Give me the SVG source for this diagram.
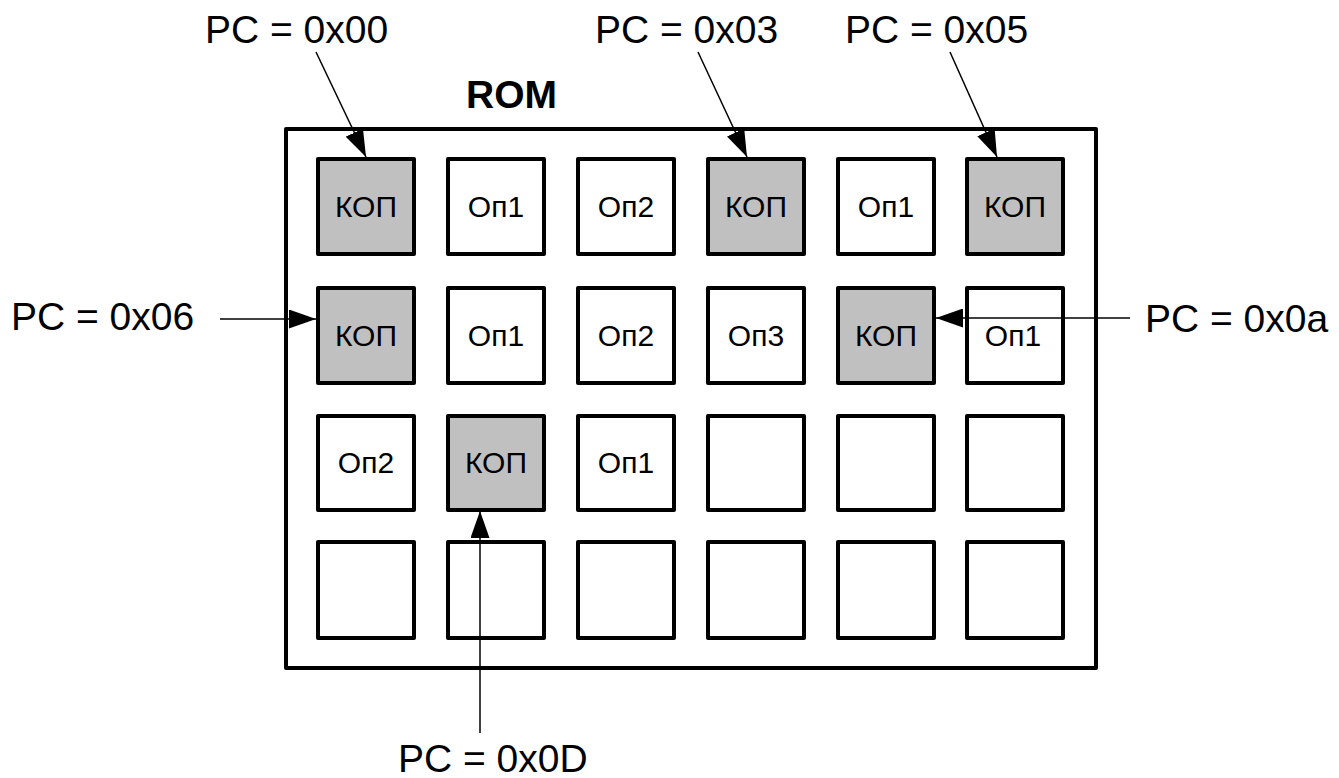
<svg xmlns="http://www.w3.org/2000/svg" width="1339" height="778" viewBox="0 0 1339 778">
<defs>
<marker id="ah" markerUnits="userSpaceOnUse" markerWidth="27" markerHeight="19" refX="27" refY="9.5" orient="auto">
<path d="M0,0 L27,9.5 L0,19 z" fill="#000"/>
</marker>
</defs>
<style>
.cell{fill:#fff;stroke:#000;stroke-width:4;stroke-linejoin:round}
.kop{fill:#c0c0c0}
.ct{font-family:"Liberation Sans",Arial,sans-serif;font-size:30px;text-anchor:middle;fill:#000}
.lbl{font-family:"Liberation Sans",Arial,sans-serif;font-size:39px;fill:#000}
.conn{stroke:#000;stroke-width:1.5;fill:none;marker-end:url(#ah)}
</style>
<rect width="1339" height="778" fill="#fff"/>
<g id="rom">
<rect x="286" y="129" width="810" height="539" fill="#fff" stroke="#000" stroke-width="4" stroke-linejoin="round"/>
<text x="466" y="108" font-family="Liberation Sans,Arial,sans-serif" font-size="39" font-weight="bold">ROM</text>
</g>
<g id="r1c1"><rect class="cell kop" x="318" y="159" width="96" height="95"/><text class="ct" x="366" y="217">КОП</text></g>
<g id="r1c2"><rect class="cell" x="448" y="159" width="96" height="95"/><text class="ct" x="496" y="217">Оп1</text></g>
<g id="r1c3"><rect class="cell" x="578" y="159" width="96" height="95"/><text class="ct" x="626" y="217">Оп2</text></g>
<g id="r1c4"><rect class="cell kop" x="708" y="159" width="96" height="95"/><text class="ct" x="756" y="217">КОП</text></g>
<g id="r1c5"><rect class="cell" x="838" y="159" width="96" height="95"/><text class="ct" x="886" y="217">Оп1</text></g>
<g id="r1c6"><rect class="cell kop" x="967" y="159" width="96" height="95"/><text class="ct" x="1015" y="217">КОП</text></g>
<g id="r2c1"><rect class="cell kop" x="318" y="288" width="96" height="95"/><text class="ct" x="366" y="346">КОП</text></g>
<g id="r2c2"><rect class="cell" x="448" y="288" width="96" height="95"/><text class="ct" x="496" y="346">Оп1</text></g>
<g id="r2c3"><rect class="cell" x="578" y="288" width="96" height="95"/><text class="ct" x="626" y="346">Оп2</text></g>
<g id="r2c4"><rect class="cell" x="708" y="288" width="96" height="95"/><text class="ct" x="756" y="346">Оп3</text></g>
<g id="r2c5"><rect class="cell kop" x="838" y="288" width="96" height="95"/><text class="ct" x="886" y="346">КОП</text></g>
<g id="r2c6"><rect class="cell" x="967" y="288" width="96" height="95"/><text class="ct" x="1013" y="346">Оп1</text></g>
<g id="r3c1"><rect class="cell" x="318" y="416" width="96" height="94"/><text class="ct" x="366" y="473">Оп2</text></g>
<g id="r3c2"><rect class="cell kop" x="448" y="416" width="96" height="94"/><text class="ct" x="496" y="473">КОП</text></g>
<g id="r3c3"><rect class="cell" x="578" y="416" width="96" height="94"/><text class="ct" x="626" y="473">Оп1</text></g>
<g id="r3c4"><rect class="cell" x="708" y="416" width="96" height="94"/></g>
<g id="r3c5"><rect class="cell" x="838" y="416" width="96" height="94"/></g>
<g id="r3c6"><rect class="cell" x="967" y="416" width="96" height="94"/></g>
<g id="r4c1"><rect class="cell" x="318" y="542" width="96" height="96"/></g>
<g id="r4c2"><rect class="cell" x="448" y="542" width="96" height="96"/></g>
<g id="r4c3"><rect class="cell" x="578" y="542" width="96" height="96"/></g>
<g id="r4c4"><rect class="cell" x="708" y="542" width="96" height="96"/></g>
<g id="r4c5"><rect class="cell" x="838" y="542" width="96" height="96"/></g>
<g id="r4c6"><rect class="cell" x="967" y="542" width="96" height="96"/></g>
<g id="labels">
<text class="lbl" x="205" y="43">PC = 0x00</text>
<text class="lbl" x="595" y="43">PC = 0x03</text>
<text class="lbl" x="845" y="43">PC = 0x05</text>
<text class="lbl" x="11" y="330">PC = 0x06</text>
<text class="lbl" x="1145" y="332">PC = 0x0a</text>
<text class="lbl" x="398" y="772">PC = 0x0D</text>
</g>
<g id="connectors">
<line class="conn" x1="316" y1="52" x2="366" y2="157"/>
<line class="conn" x1="698" y1="52" x2="747" y2="157"/>
<line class="conn" x1="950" y1="52" x2="997" y2="157"/>
<line class="conn" x1="220" y1="319" x2="316" y2="319"/>
<line class="conn" x1="1130" y1="318" x2="936" y2="318"/>
<line class="conn" x1="480" y1="733" x2="480" y2="511"/>
</g>
</svg>
